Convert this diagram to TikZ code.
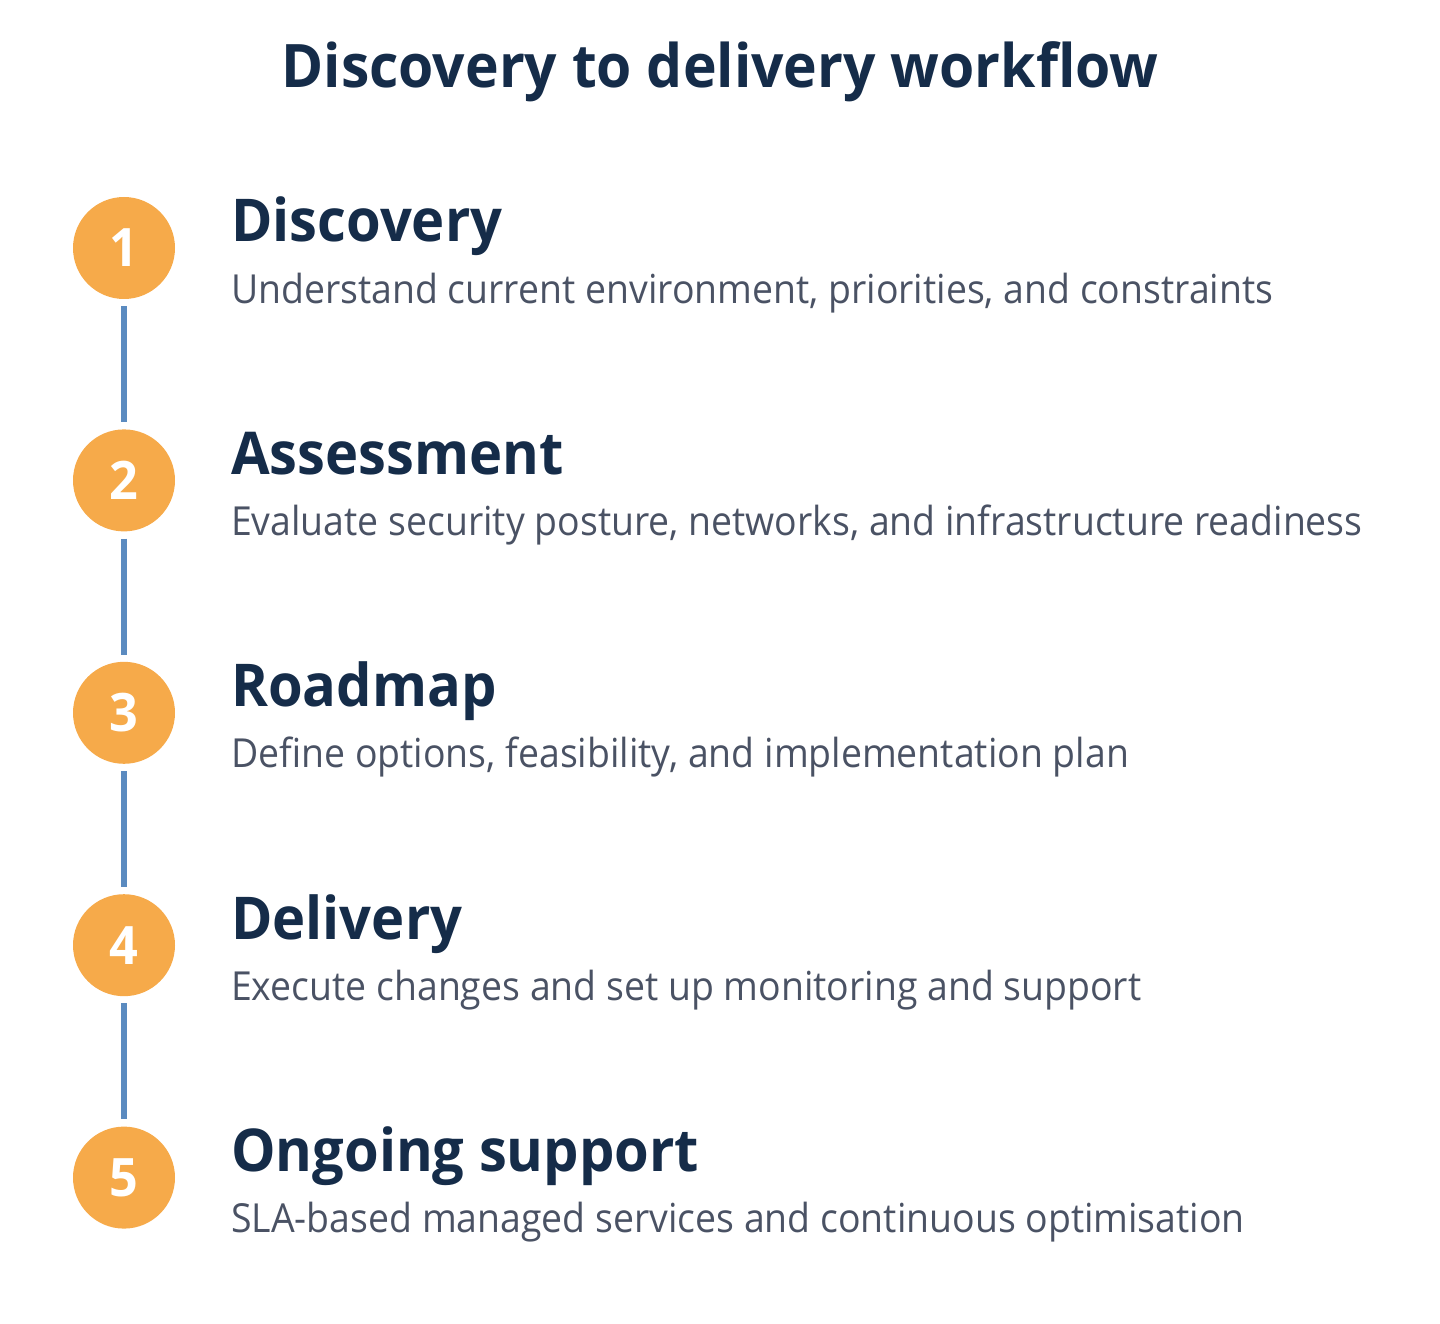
\documentclass[tikz,border=0pt]{standalone}
\usepackage{fontspec}
\setmainfont{Open Sans}
\newfontfamily\headfont{Open Sans}[FakeStretch=0.95]
\newfontfamily\bodyfont{Open Sans}[FakeStretch=0.935]
\usepackage{color}
\usetikzlibrary{positioning}

\definecolor{navyblue}{HTML}{152C49}
\definecolor{slategray}{HTML}{4A5264}
\definecolor{stepamber}{HTML}{F6AA4A}
\definecolor{linkblue}{HTML}{5B8BC0}

\begin{document}
\begin{tikzpicture}[x=1pt,y=-1pt]
	% Define styles
	\tikzstyle{stepcircle} = [circle, fill=stepamber, text=white, inner sep=0pt,
	minimum size=102pt, font=\fontsize{53}{60}\headfont\bfseries\selectfont]
	\tikzstyle{heading} = [anchor=base west, inner sep=0pt, text=navyblue,
	font=\fontsize{59}{66}\headfont\bfseries\selectfont]
	\tikzstyle{caption} = [anchor=base west, inner sep=0pt, text=slategray,
	font=\fontsize{40}{46}\bodyfont\selectfont]
	\tikzstyle{link} = [linkblue, line width=6pt, shorten >=7pt, shorten <=7pt]
	
	% Global settings
	\tikzstyle{every node}=[node distance=130pt]
	\useasboundingbox (0,0) rectangle (1440,1324);
	
	% Title
	\node [anchor=base, inner sep=0pt, text=navyblue,
	font=\fontsize{60}{66}\headfont\bfseries\selectfont] (title) at (720,88) {Discovery to delivery workflow};
	
	% Place nodes
	\node [stepcircle] (s1) at (124,248) {1};
	\node [stepcircle, below=of s1] (s2) {2};
	\node [stepcircle, below=of s2] (s3) {3};
	\node [stepcircle, below=of s3] (s4) {4};
	\node [stepcircle, below=of s4] (s5) {5};
	
	\node [heading] (h1) at ([xshift=107pt, yshift=6pt]s1.center) {Discovery};
	\node [heading] (h2) at ([xshift=107pt, yshift=6pt]s2.center) {Assessment};
	\node [heading] (h3) at ([xshift=107pt, yshift=6pt]s3.center) {Roadmap};
	\node [heading] (h4) at ([xshift=107pt, yshift=6pt]s4.center) {Delivery};
	\node [heading] (h5) at ([xshift=107pt, yshift=6pt]s5.center) {Ongoing support};
	
	\node [caption] (d1) at ([yshift=-61pt]h1.base west) {Understand current environment, priorities, and constraints};
	\node [caption] (d2) at ([yshift=-61pt]h2.base west) {Evaluate security posture, networks, and infrastructure readiness};
	\node [caption] (d3) at ([yshift=-61pt]h3.base west) {Define options, feasibility, and implementation plan};
	\node [caption] (d4) at ([yshift=-61pt]h4.base west) {Execute changes and set up monitoring and support};
	\node [caption] (d5) at ([yshift=-61pt]h5.base west) {SLA-based managed services and continuous optimisation};
	
	% Draw links
	\draw [link] (s1) -- (s2);
	\draw [link] (s2) -- (s3);
	\draw [link] (s3) -- (s4);
	\draw [link] (s4) -- (s5);
\end{tikzpicture}
\end{document}
